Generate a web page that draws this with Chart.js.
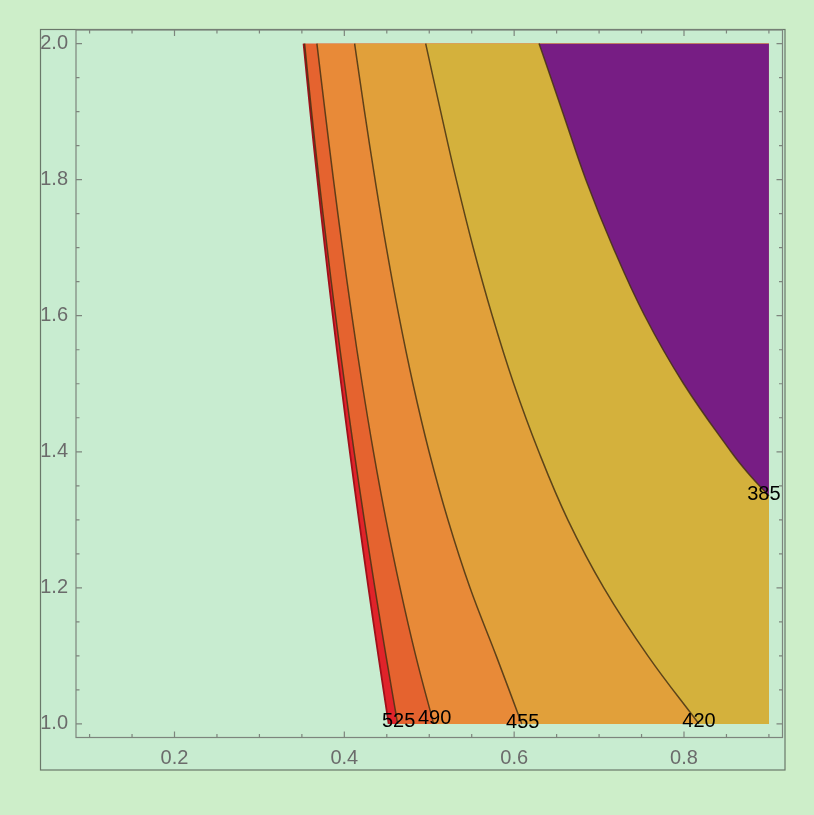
<!DOCTYPE html>
<html>
<head>
<meta charset="utf-8">
<script src="https://cdn.jsdelivr.net/npm/chart.js@4"></script>
<style>
  html, body { margin: 0; padding: 0; background: #cdeec9; }
  #box { width: 814px; height: 815px; }
</style>
</head>
<body>
<div id="box"><canvas id="grafico" width="814" height="815"></canvas></div>
<script>
// Datos: cada curva es x(y)
var yLevels = [2.0, 1.9, 1.8, 1.7, 1.6, 1.5, 1.4, 1.3, 1.2, 1.1, 1.0];
var xBorde = [0.352, 0.3599, 0.3683, 0.3771, 0.3864, 0.3962, 0.4065, 0.4172, 0.4284, 0.4401, 0.4522];
var x525 = [0.3532, 0.3614, 0.3702, 0.3797, 0.3897, 0.4004, 0.4116, 0.4235, 0.436, 0.4491, 0.4628];
var x490 = [0.3677, 0.3773, 0.3872, 0.3977, 0.4089, 0.421, 0.4343, 0.4491, 0.4656, 0.4841, 0.5052];
var x455 = [0.4121, 0.4238, 0.4362, 0.4495, 0.4642, 0.4808, 0.4998, 0.522, 0.548, 0.5789, 0.609];
var x420 = [0.4958, 0.5135, 0.5318, 0.5518, 0.5742, 0.5995, 0.629, 0.6632, 0.7056, 0.7575, 0.8176];
var y385 = [2.0, 1.9, 1.8, 1.7, 1.6, 1.5, 1.4, 1.37, 1.335];
var x385 = [0.6293, 0.6569, 0.6844, 0.7166, 0.7537, 0.7995, 0.8554, 0.8745, 0.9];
var xMaxDatos = 0.9;
var etiquetas = ["385", "420", "455", "490", "525", ""];
var xTicks = [0.2, 0.4, 0.6, 0.8];
var yTicks = [1.0, 1.2, 1.4, 1.6, 1.8, 2.0];

function puntos(xs, ys) {
  var res = [];
  for (var i = 0; i < xs.length; i++) {
    res.push({ x: xs[i], y: ys[i] });
  }
  return res;
}

var lineaContorno = "rgba(70, 50, 20, 0.85)";

function serie(xs, ys, color, borde, ancho) {
  return {
    data: puntos(xs, ys),
    backgroundColor: color,
    borderColor: borde,
    borderWidth: ancho,
    pointRadius: 0,
    tension: 0.4,
    fill: { value: xMaxDatos }
  };
}

// el orden importa: el relleno del ultimo se pinta primero
var datasets = [
  serie(x385, y385, "#771d84", lineaContorno, 1.5),
  serie(x420, yLevels, "#d4b13c", lineaContorno, 1.5),
  serie(x455, yLevels, "#e1a03a", lineaContorno, 1.5),
  serie(x490, yLevels, "#e88a38", lineaContorno, 1.5),
  serie(x525, yLevels, "#e5632f", lineaContorno, 1.5),
  serie(xBorde, yLevels, "#e0232a", "#a0101a", 1.8)
];

// Fondo, marco exterior y marco con marcas hacia dentro
var marco = {
  id: "marco",
  beforeDraw: function(chart) {
    var ctx = chart.ctx;
    ctx.save();
    ctx.fillStyle = "#cdeec9";
    ctx.fillRect(0, 0, chart.width, chart.height);
    ctx.fillStyle = "#c8ecd0";
    ctx.fillRect(40.5, 29.5, 744.5, 740.5);
    ctx.strokeStyle = "#6a786a";
    ctx.lineWidth = 1.2;
    ctx.strokeRect(40.5, 29.5, 744.5, 740.5);
    ctx.restore();
  },
  afterDatasetsDraw: function(chart) {
    var ctx = chart.ctx;
    var a = chart.chartArea;
    var sx = chart.scales.x, sy = chart.scales.y;
    ctx.save();
    ctx.strokeStyle = "#7d857d";
    ctx.lineWidth = 1.2;
    ctx.strokeRect(a.left, a.top, a.right - a.left, a.bottom - a.top);
    var v, p, largo;
    for (v = 0.1; v <= 0.9001; v += 0.05) {
      p = sx.getPixelForValue(v);
      largo = Math.abs(v / 0.2 - Math.round(v / 0.2)) < 0.01 ? 6 : 3.5;
      ctx.beginPath();
      ctx.moveTo(p, a.bottom); ctx.lineTo(p, a.bottom - largo);
      ctx.moveTo(p, a.top); ctx.lineTo(p, a.top + largo);
      ctx.stroke();
    }
    for (v = 1.0; v <= 2.0001; v += 0.05) {
      p = sy.getPixelForValue(v);
      largo = Math.abs(v / 0.2 - Math.round(v / 0.2)) < 0.01 ? 6 : 3.5;
      ctx.beginPath();
      ctx.moveTo(a.left, p); ctx.lineTo(a.left + largo, p);
      ctx.moveTo(a.right, p); ctx.lineTo(a.right - largo, p);
      ctx.stroke();
    }
    // etiquetas de contorno al final de cada curva
    var dx = [-5, 0, 1, 1, 1, 0];
    var dy = [-2, -2, -1, -5, -2, 0];
    ctx.fillStyle = "#000";
    ctx.font = "20px 'Liberation Sans', Arial, sans-serif";
    ctx.textAlign = "center";
    ctx.textBaseline = "middle";
    for (var i = 0; i < etiquetas.length; i++) {
      if (!etiquetas[i]) continue;
      var d = chart.data.datasets[i].data;
      var ult = d[d.length - 1];
      var px = sx.getPixelForValue(ult.x);
      var py = sy.getPixelForValue(ult.y);
      ctx.fillText(etiquetas[i], px + dx[i], py + dy[i]);
    }
    ctx.restore();
  }
};

var grafico = new Chart(document.getElementById("grafico"), {
  type: "line",
  data: { datasets: datasets },
  options: {
    responsive: false,
    animation: false,
    indexAxis: "y",
    layout: { padding: { left: 0, top: 30, right: 31.5, bottom: 0 } },
    plugins: { legend: { display: false }, tooltip: { enabled: false } },
    scales: {
      x: {
        type: "linear",
        min: 0.084,
        max: 0.916,
        grid: { display: false, drawTicks: false },
        border: { display: false },
        afterBuildTicks: function(s) { s.ticks = xTicks.map(function(v) { return { value: v }; }); },
        afterFit: function(s) { s.height = 815 - 737.5; },
        ticks: {
          color: "#6b6b6b",
          padding: 9,
          font: { family: "'Liberation Sans', Arial, sans-serif", size: 20 },
          callback: function(v) { return v.toFixed(1); }
        }
      },
      y: {
        type: "linear",
        min: 0.98,
        max: 2.02,
        grid: { display: false, drawTicks: false },
        border: { display: false },
        afterBuildTicks: function(s) { s.ticks = yTicks.map(function(v) { return { value: v }; }); },
        afterFit: function(s) { s.width = 76; },
        ticks: {
          color: "#6b6b6b",
          padding: 8,
          font: { family: "'Liberation Sans', Arial, sans-serif", size: 20 },
          callback: function(v) { return v.toFixed(1); }
        }
      }
    }
  },
  plugins: [marco]
});
</script>
</body>
</html>
